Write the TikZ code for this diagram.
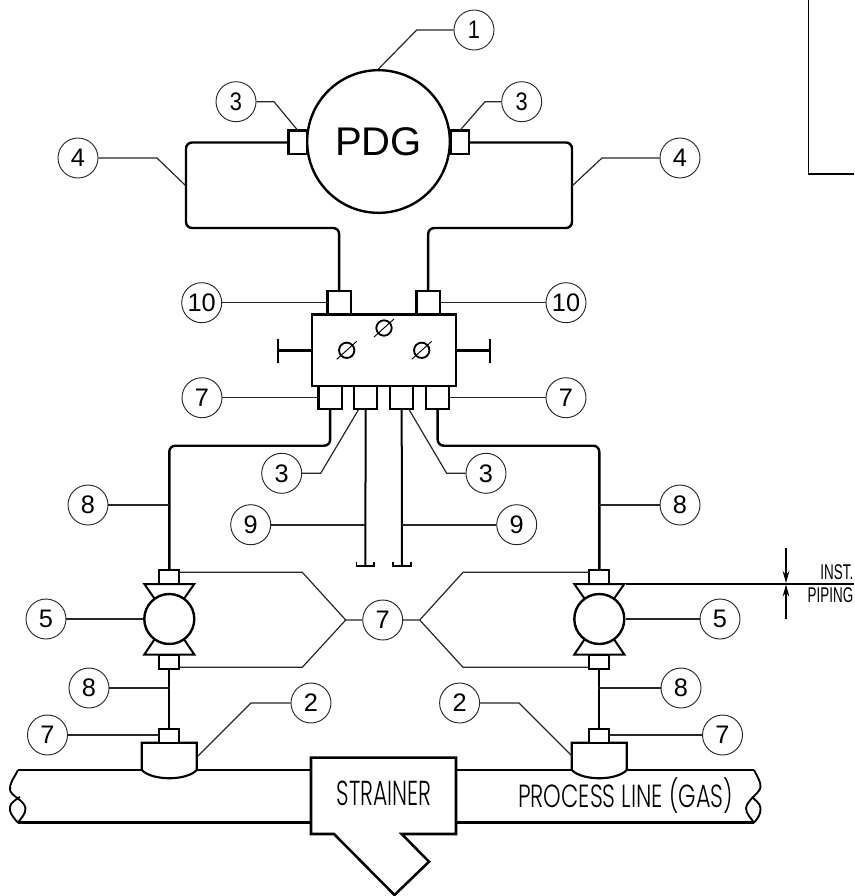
\documentclass[tikz,border=0pt]{standalone}
\usepackage{fontspec}
\usepackage{graphicx}
\setmainfont{Liberation Sans}
\newfontfamily\gothic{Poppins Light}
\usetikzlibrary{arrows.meta}
\newcommand{\nar}[1]{\scalebox{0.86}[1]{#1}}
\tikzset{
  px/.style={x=0.75pt,y=-0.75pt},
  heavy/.style={draw=black,line width=1.9pt},
  thinpipe/.style={draw=black,line width=1.5pt},
  pipe/.style={draw=black,line width=1.8pt,rounded corners=4.5pt},
  leader/.style={draw=black!85,line width=0.9pt},
  tag/.style={circle,draw=black!85,line width=0.7pt,fill=white,minimum size=30pt,inner sep=0pt,font=\fontsize{19}{20}\selectfont},
  fitbox/.style={draw=black,line width=1.6pt,fill=white,minimum width=17.5pt,minimum height=17.5pt,inner sep=0pt,outer sep=0pt,anchor=north west},
  smallfit/.style={draw=black,line width=1.5pt,fill=white,minimum width=15pt,minimum height=10.5pt,inner sep=0pt,outer sep=0pt},
  lbl/.style={inner sep=0pt},
}
\begin{document}
\begin{tikzpicture}[px]
\useasboundingbox (0,0) rectangle (854,896);
% top right box
\draw[line width=1.3pt] (808.5,0) -- (808.5,174) -- (854,174);
% tags
\node[tag] (t1) at (474,30) {\nar{1}};
\node[tag] (t3a) at (236,101.7) {\nar{3}};
\node[tag] (t3b) at (521.7,101.7) {\nar{3}};
\node[tag] (t4a) at (78,158) {4};
\node[tag] (t4b) at (680,158) {4};
\node[tag] (t10a) at (201.7,302.7) {10};
\node[tag] (t10b) at (566,302.7) {10};
\node[tag] (t7a) at (202,397.7) {7};
\node[tag] (t7b) at (566,397.7) {7};
\node[tag] (t3c) at (281.7,473.3) {3};
\node[tag] (t3d) at (486,473.3) {3};
\node[tag] (t8a) at (88,505) {8};
\node[tag] (t8b) at (680,505) {8};
\node[tag] (t9a) at (250.7,524.7) {9};
\node[tag] (t9b) at (516.7,524.7) {9};
\node[tag] (t5a) at (46,619) {5};
\node[tag] (t5b) at (720,619) {5};
\node[tag] (t7c) at (382.7,620) {7};
\node[tag] (t8c) at (89,688) {8};
\node[tag] (t8d) at (681,688) {8};
\node[tag] (t2a) at (311,703) {2};
\node[tag] (t2b) at (459.6,703) {2};
\node[tag] (t7d) at (47.5,735) {7};
\node[tag] (t7e) at (722.5,735) {7};
% PDG gauge
\node[circle,draw=black,line width=1.8pt,fill=white,minimum size=107pt,inner sep=0pt,font=\fontsize{30}{31}\selectfont] (pdg) at (378.5,141.5) {PDG};
\node[fitbox,minimum width=14pt] (fa) at (288.5,130.5) {};
\node[fitbox,minimum width=14pt] (fb) at (450.5,130.5) {};
% manifold
\node[draw=black,line width=1.9pt,fill=white,minimum width=108pt,minimum height=53.5pt,inner sep=0pt,outer sep=0pt,anchor=north west] (man) at (312,314.5) {};
\node[fitbox] (ta) at (327.5,291) {};
\node[fitbox] (tb) at (416.5,291) {};
\node[fitbox] (ba) at (318.5,386) {};
\node[fitbox] (bb) at (354,386) {};
\node[fitbox] (bc) at (390,386) {};
\node[fitbox] (bd) at (426,386) {};
% pipes gauge to manifold
\draw[pipe] (fa.west |- 0,142.5) -- (186,142.5) -- (186,228) -- (ta.north |- 0,228) -- (ta.north);
\draw[pipe] (fb.east |- 0,142.5) -- (572,142.5) -- (572,228) -- (tb.north |- 0,228) -- (tb.north);
% handles
\coordinate (ha) at (278,350.5); \coordinate (hb) at (490,350.5);
\draw[heavy] (man.west |- ha) -- (ha) (278,338.5) -- (278,362.5);
\draw[heavy] (man.east |- hb) -- (hb) (490,338.5) -- (490,362.5);
% valve knobs
\foreach \n/\x/\y in {ka/346.7/350.3,kb/421.7/350.3,kc/384/328}{
  \node[circle,draw=black,line width=1.4pt,minimum size=11.5pt,inner sep=0pt] (\n) at (\x,\y) {};
  \draw[line width=0.7pt] (\x-10,\y+9) -- (\x+10,\y-9);
}
% valves
\foreach \n/\x in {l/169.3,r/599.3}{
  \draw[line width=1.5pt,line join=miter] (\x-14.5,599) -- (\x-25,584) -- (\x+25,584) -- (\x+14.5,599);
  \draw[line width=1.5pt,line join=miter] (\x-14.5,639) -- (\x-25,654.5) -- (\x+25,654.5) -- (\x+14.5,639);
  \node[circle,draw=black,line width=1.8pt,fill=white,minimum size=37.5pt,inner sep=0pt] (v\n) at (\x,619) {};
  \node[smallfit,anchor=south] (u\n) at (\x,584) {};
  \node[smallfit,anchor=north] (d\n) at (\x,654.5) {};
}
% pipes to valves
\draw[pipe] (ba.south) -- (ba.south |- 0,445.7) -- (ul.north |- 0,445.7) -- (ul.north);
\draw[pipe] (bd.south) -- (bd.south |- 0,445.7) -- (ur.north |- 0,445.7) -- (ur.north);
% vents
\coordinate (va) at (365.3,566); \coordinate (vb) at (402,566);
\draw[thinpipe] (bb.south) -- (va);
\draw[thinpipe] (bc.south) -- (vb);
\draw[line width=1.3pt] (356.5,562) -- (356.5,566) -- (374,566) -- (374,562);
\draw[line width=1.3pt] (393,562) -- (393,566) -- (411,566) -- (411,562);
% process line
\draw[heavy] (18,770) -- (311,770) (456,770) -- (754,770);
\draw[heavy] (18,822.7) -- (311,822.7) (456,822.7) -- (754,822.7);
\draw[line width=1.4pt] (18,770) .. controls (14,778) and (9,784) .. (10,790) .. controls (11,796) and (24,800) .. (25.5,808) .. controls (26,814) and (21,818) .. (18,822.7);
\draw[line width=1.4pt] (18,822.7) .. controls (12,816) and (9,812) .. (10,807) .. controls (10.5,803) and (15,800) .. (20,797);
\draw[line width=1.4pt] (754,770) .. controls (757,776) and (761,782) .. (760.5,787) .. controls (760,793) and (747,800) .. (746,808) .. controls (746,814) and (751,818) .. (754,822.7);
\draw[line width=1.4pt] (754,822.7) .. controls (758,818) and (761,814) .. (760.5,808) .. controls (760,803) and (755,800) .. (752,797);
% strainer
\draw[heavy,line join=miter,fill=white] (311,757.7) -- (456,757.7) -- (456,834) -- (401.7,834) -- (429,861.7) -- (394.5,895) -- (334,834) -- (311,834) -- cycle;
\node[lbl,font=\gothic\fontsize{26}{27}\selectfont] (st) at (384,793) {\scalebox{0.63}[1]{STRAINER}};
\node[lbl,font=\gothic\fontsize{24}{25}\selectfont] (pl) at (625.5,796) {\scalebox{0.7}[1]{PROCESS LINE (GAS)}};
% taps
\foreach \n/\x in {a/169.3,b/599.3}{
  \draw[line width=1.6pt,fill=white] (\x-27.5,770) -- (\x-27.5,742.7) -- (\x+27.5,742.7) -- (\x+27.5,770) .. controls (\x+17,781) and (\x-17,781) .. (\x-27.5,770) -- cycle;
  \node[smallfit,anchor=south] (tp\n) at (\x,742.7) {};
}
\draw[thinpipe] (dl.south) -- (tpa.north);
\draw[thinpipe] (dr.south) -- (tpb.north);
% leaders
\coordinate (e4a) at (186,186); \coordinate (e4b) at (572,186);
\coordinate (e8a) at (169.3,505); \coordinate (e8b) at (599.3,505);
\coordinate (e8c) at (169.3,688); \coordinate (e8d) at (599.3,688);
\coordinate (e2a) at (198,756); \coordinate (e2b) at (572,756);
\coordinate (e9a) at (365.3,524.7); \coordinate (e9b) at (402,524.7);
\coordinate (e3c) at (358.3,410); \coordinate (e3d) at (409.3,410);
\draw[leader] (t1.west) -- (416.7,30) -- (pdg.90);
\draw[leader] (t3a.east) -- (274,101.7) -- (fa.north);
\draw[leader] (t3b.west) -- (485,101.7) -- (fb.north);
\draw[leader] (t4a.east) -- (157,158) -- (e4a);
\draw[leader] (t4b.west) -- (602,158) -- (e4b);
\draw[leader] (t10a.east) -- (ta.west |- t10a);
\draw[leader] (t10b.west) -- (tb.east |- t10b);
\draw[leader] (t7a.east) -- (ba.west |- t7a);
\draw[leader] (t7b.west) -- (bd.east |- t7b);
\draw[leader] (t3c.east) -- (320.7,473.3) -- (e3c);
\draw[leader] (t3d.west) -- (446.7,473.3) -- (e3d);
\draw[leader] (t8a.east) -- (e8a);
\draw[leader] (t8b.west) -- (e8b);
\draw[leader,line width=1.2pt] (t9a.east) -- (e9a);
\draw[leader,line width=1.2pt] (t9b.west) -- (e9b);
\draw[leader] (t5a.east) -- (vl.west);
\draw[leader] (t5b.west) -- (vr.east);
\draw[leader] (t7c.west) -- (345.7,620) -- (302.3,572.3) -- (ul.east |- 0,572.3);
\draw[leader] (345.7,620) -- (302.3,667.3) -- (dl.east |- 0,667.3);
\draw[leader] (t7c.east) -- (419.7,620) -- (463,572.3) -- (ur.west |- 0,572.3);
\draw[leader] (419.7,620) -- (463,667.3) -- (dr.west |- 0,667.3);
\draw[leader] (t8c.east) -- (e8c);
\draw[leader] (t8d.west) -- (e8d);
\draw[leader] (t2a.west) -- (251,703) -- (e2a);
\draw[leader] (t2b.east) -- (519,703) -- (e2b);
\draw[leader] (t7d.east) -- (tpa.west |- t7d);
\draw[leader] (t7e.west) -- (tpb.east |- t7e);
% inst / piping break
\coordinate (ia) at (626,583.7); \coordinate (ib) at (854,583.7);
\coordinate (aa) at (786,548); \coordinate (ab) at (786,583); \coordinate (ac) at (786,619); \coordinate (ad) at (786,584.5);
\draw[line width=1.7pt] (ia) -- (ib);
\draw[line width=1.1pt,-{Stealth[length=9pt,width=5pt]}] (aa) -- (ab);
\draw[line width=1.1pt,-{Stealth[length=9pt,width=5pt]}] (ac) -- (ad);
\node[lbl,anchor=south east,font=\fontsize{16}{17}\selectfont] (inst) at (853.5,580) {\scalebox{0.63}[1]{INST.}};
\node[lbl,anchor=south east,font=\fontsize{16}{17}\selectfont] (pip) at (853.5,603) {\scalebox{0.63}[1]{PIPING}};
\end{tikzpicture}
\end{document}
